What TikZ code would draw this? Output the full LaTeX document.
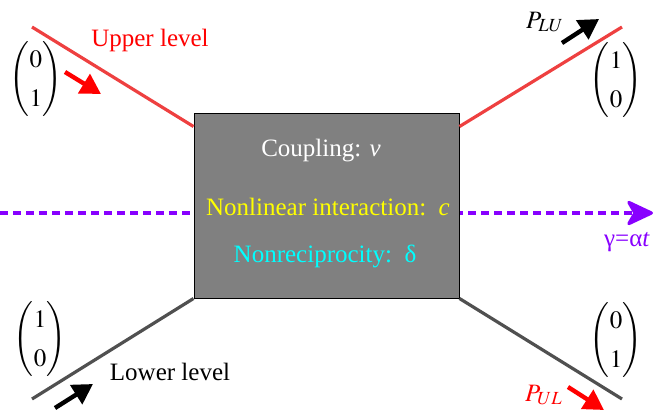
\documentclass[tikz,border=0pt]{standalone}
\usepackage{amsmath}
\usepackage{mathptmx}
\usepackage{fontspec}
\setmainfont{Liberation Serif}
\usetikzlibrary{arrows.meta}
\definecolor{levelred}{RGB}{238,64,64}
\definecolor{levelgray}{RGB}{80,80,80}
\definecolor{sweep}{RGB}{136,0,255}
\definecolor{txtcyan}{RGB}{0,255,255}
\definecolor{txtyellow}{RGB}{255,255,0}
\definecolor{boxgray}{RGB}{128,128,128}
\tikzset{>={Triangle[length=10pt,width=11pt]}}
\tikzset{ level/.style={line width=1.6pt}, jump/.style={->,line width=2.2pt}, lbl/.style={font=\fontsize{12.5}{15}\selectfont}, vec/.style={lbl,inner sep=0pt} }
\renewcommand{\arraystretch}{1.3}

\begin{document}
\begin{tikzpicture}[x=0.5pt,y=-0.5pt]
  \useasboundingbox (0,0) rectangle (653,414);
  % time axis
  \draw[sweep,line width=1.6pt,dash pattern=on 4pt off 2.5pt,
    -{Stealth[length=15pt,width=14pt,inset=4pt,round]}] (0,213) coordinate (t0) -- (653,213) coordinate (t1);
  \node[lbl,sweep] (gam) at (627,242) {γ=α\textit{t}};
  % interaction box
  \node[draw=black,fill=boxgray,line width=0.5pt,minimum width=132.5pt,minimum height=92.5pt] (box) at (326.5,205.5) {};
  \node[lbl,white] (coup) at (321,151) {Coupling: \textit{v}};
  \node[lbl,txtyellow] (nonl) at (328,207) {Nonlinear interaction:\ \ \textit{c}};
  \node[lbl,txtcyan] (nonr) at (325,256) {Nonreciprocity:\ \ δ};
  % levels
  \coordinate (ul) at (32,27);
  \coordinate (ur) at (622,27);
  \coordinate (ll) at (32,399);
  \coordinate (lr) at (622,399);
  \draw[level,levelred] (ul) -- ([yshift=-7pt]box.north west);
  \draw[level,levelred] ([yshift=-7pt]box.north east) -- (ur);
  \draw[level,levelgray] (ll) -- (box.south west);
  \draw[level,levelgray] (box.south east) -- (lr);
  \node[lbl,red] (up) at (150,40) {Upper level};
  \node[lbl] (low) at (170,372) {Lower level};
  % states
  \node[vec] (sul) at (36,79) {$\begin{pmatrix}0\\1\end{pmatrix}$};
  \node[vec] (sur) at (616,80) {$\begin{pmatrix}1\\0\end{pmatrix}$};
  \node[vec] (sll) at (40,339) {$\begin{pmatrix}1\\0\end{pmatrix}$};
  \node[vec] (slr) at (616,340) {$\begin{pmatrix}0\\1\end{pmatrix}$};
  % populations
  \draw[jump,red] (65,72) -- (101,94);
  \draw[jump] (562,43) -- (599,19);
  \draw[jump] (55,408) -- (93,384);
  \draw[jump,red] (568,387) -- (604,410);
  \node[lbl] (plu) at (545,22) {$P_{LU}$};
  \node[lbl,red] (pul) at (544,395) {$P_{UL}$};
\end{tikzpicture}
\end{document}
